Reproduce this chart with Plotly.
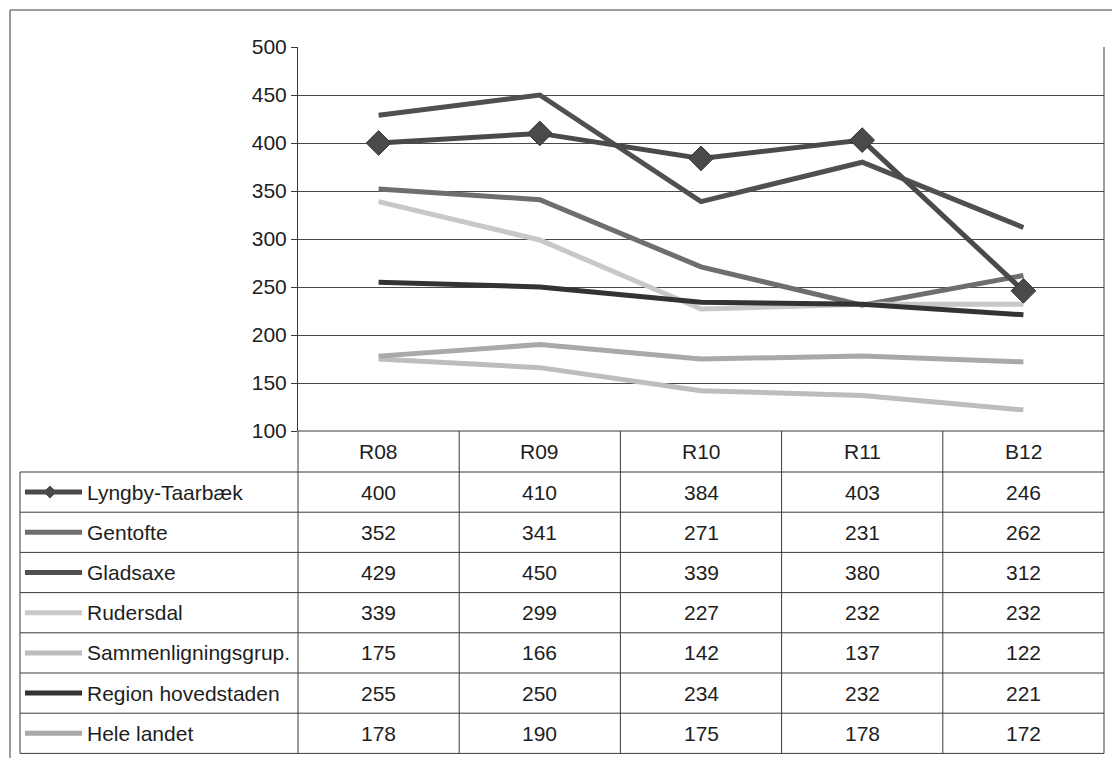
import plotly.graph_objects as go

categories = ["R08", "R09", "R10", "R11", "B12"]
series_names = ["Lyngby-Taarbæk", "Gentofte", "Gladsaxe", "Rudersdal",
                "Sammenligningsgrup.", "Region hovedstaden", "Hele landet"]
lyngby = [400, 410, 384, 403, 246]
gentofte = [352, 341, 271, 231, 262]
gladsaxe = [429, 450, 339, 380, 312]
rudersdal = [339, 299, 227, 232, 232]
sammen = [175, 166, 142, 137, 122]
region = [255, 250, 234, 232, 221]
hele = [178, 190, 175, 178, 172]
y_ticks = [100, 150, 200, 250, 300, 350, 400, 450, 500]

all_values = [lyngby, gentofte, gladsaxe, rudersdal, sammen, region, hele]
colors = ["#4a4a4a", "#6e6e6e", "#505050", "#c8c8c8", "#bdbdbd", "#333333", "#a9a9a9"]

W, H = 1112, 758
FONT = "Liberation Sans, Arial, sans-serif"


def px(x):
    return x / W


def py(y):
    return 1 - y / H


plot_l, plot_r, plot_t, plot_b = 298, 1104, 47, 431
head_b = 472
row_h = 40.2
leg_l = 20

fig = go.Figure()

# draw lines, Lyngby last so the diamonds sit on top
order = [1, 2, 3, 4, 5, 6, 0]
for i in order:
    if i == 0:
        fig.add_trace(go.Scatter(x=categories, y=all_values[i], mode="lines+markers",
                                 line=dict(color=colors[i], width=5),
                                 marker=dict(symbol="diamond", size=19, color=colors[i],
                                             line=dict(color="#333333", width=1)),
                                 name=series_names[i], showlegend=False))
    else:
        fig.add_trace(go.Scatter(x=categories, y=all_values[i], mode="lines",
                                 line=dict(color=colors[i], width=5),
                                 name=series_names[i], showlegend=False))

shapes = []
ln = dict(color="#3a3a3a", width=1)
# outer frame (top and left visible)
shapes.append(dict(type="line", xref="paper", yref="paper", x0=px(10), x1=px(1112),
                   y0=py(10), y1=py(10), line=ln))
shapes.append(dict(type="line", xref="paper", yref="paper", x0=px(10), x1=px(10),
                   y0=py(10), y1=py(758), line=ln))
# plot right edge
shapes.append(dict(type="line", xref="paper", yref="paper", x0=px(plot_r), x1=px(plot_r),
                   y0=py(plot_t), y1=py(plot_b), line=ln))
# table header top line
shapes.append(dict(type="line", xref="paper", yref="paper", x0=px(plot_l), x1=px(plot_r),
                   y0=py(plot_b), y1=py(plot_b), line=ln))
# table horizontal lines
for k in range(len(series_names) + 1):
    y = head_b + row_h * k
    shapes.append(dict(type="line", xref="paper", yref="paper", x0=px(leg_l), x1=px(plot_r),
                       y0=py(y), y1=py(y), line=ln))
table_bottom = head_b + row_h * len(series_names)
# vertical table lines
col_w = (plot_r - plot_l) / len(categories)
for j in range(len(categories) + 1):
    x = plot_l + col_w * j
    shapes.append(dict(type="line", xref="paper", yref="paper", x0=px(x), x1=px(x),
                       y0=py(plot_b), y1=py(table_bottom), line=ln))
shapes.append(dict(type="line", xref="paper", yref="paper", x0=px(leg_l), x1=px(leg_l),
                   y0=py(head_b), y1=py(table_bottom), line=ln))

annotations = []
txt = dict(family=FONT, size=21, color="#1e1e1e")
# header
for j, c in enumerate(categories):
    annotations.append(dict(x=px(plot_l + col_w * (j + 0.5)), y=py((plot_b + head_b) / 2),
                            xref="paper", yref="paper", text=c, showarrow=False, font=txt,
                            xanchor="center", yanchor="middle"))
# rows
for k, name in enumerate(series_names):
    yc = head_b + row_h * (k + 0.5)
    for j in range(len(categories)):
        annotations.append(dict(x=px(plot_l + col_w * (j + 0.5)), y=py(yc), xref="paper",
                                yref="paper", text=str(all_values[k][j]), showarrow=False,
                                font=txt, xanchor="center", yanchor="middle"))
    annotations.append(dict(x=px(85), y=py(yc), xref="paper", yref="paper", text=name,
                            xanchor="left", yanchor="middle", showarrow=False, font=txt))
    # legend sample
    shapes.append(dict(type="line", xref="paper", yref="paper", x0=px(25), x1=px(82),
                       y0=py(yc), y1=py(yc), line=dict(color=colors[k], width=5)))
    if k == 0:
        d = 6
        path = (f"M {px(50 - d)},{py(yc)} L {px(50)},{py(yc - d)} "
                f"L {px(50 + d)},{py(yc)} L {px(50)},{py(yc + d)} Z")
        shapes.append(dict(type="path", xref="paper", yref="paper", path=path,
                           fillcolor=colors[k], line=dict(color=colors[k], width=1)))

fig.update_layout(
    width=W, height=H, autosize=False,
    margin=dict(l=0, r=0, t=0, b=0, pad=0),
    paper_bgcolor="white", plot_bgcolor="white",
    font=txt,
    xaxis=dict(domain=[px(plot_l), px(plot_r)], range=[-0.5, 4.5], type="category",
               showticklabels=False, showgrid=False, zeroline=False, showline=False,
               ticks="", automargin=False),
    yaxis=dict(domain=[py(plot_b), py(plot_t)], range=[100, 500], tickvals=y_ticks,
               ticks="outside", ticklen=6, tickcolor="#3a3a3a", showline=True,
               linecolor="#3a3a3a", linewidth=1, gridcolor="#4a4a4a", gridwidth=1,
               zeroline=False, tickfont=txt, automargin=False),
    shapes=shapes,
    annotations=annotations,
)

fig.write_html("out.html", config={"displayModeBar": False},
               post_script="document.body.style.margin='0';"
                           "document.body.style.overflow='hidden';")
